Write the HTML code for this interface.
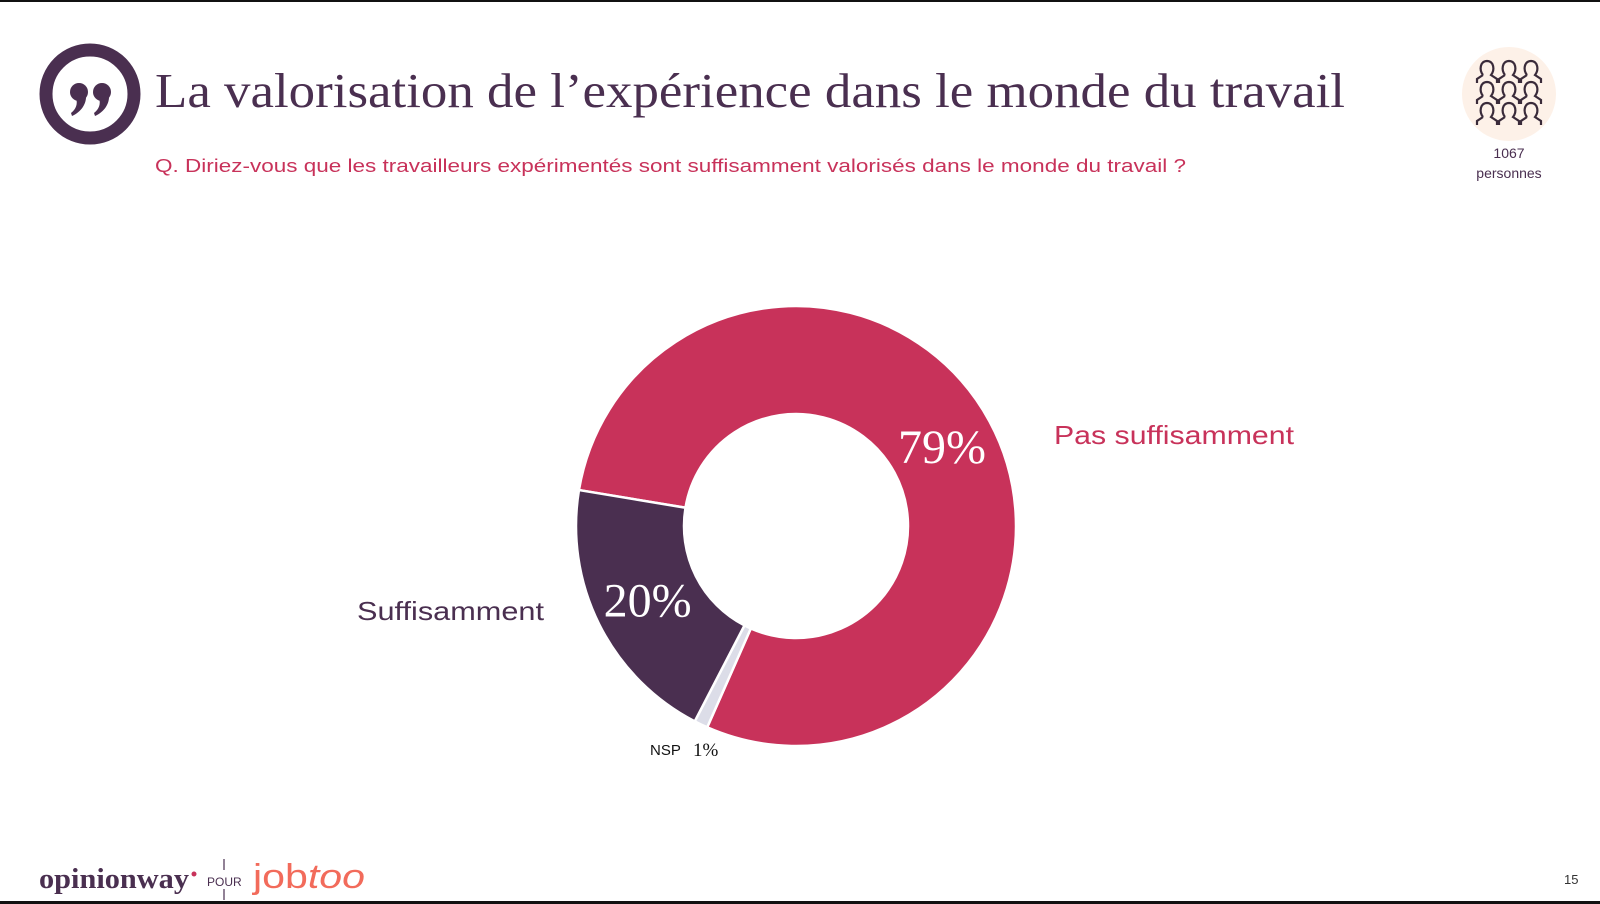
<!DOCTYPE html>
<html><head><meta charset="utf-8"><style>
html,body{margin:0;padding:0;background:#fff;}
svg{display:block;}
</style></head><body>
<svg width="1600" height="904" viewBox="0 0 1600 904" xmlns="http://www.w3.org/2000/svg">
<rect x="0" y="0" width="1600" height="2" fill="#111"/>
<rect x="0" y="901" width="1600" height="3" fill="#111"/>
<g fill="#4a2f50">
<circle cx="90" cy="94" r="44" fill="none" stroke="#4a2f50" stroke-width="13"/>
<circle cx="79" cy="92" r="9"/>
<path d="M86,94 C87,104 81,112 72,116 L71,113 C76,109 78,104 76,98 Z"/>
<circle cx="102" cy="92" r="9"/>
<path d="M109,94 C110,104 104,112 95,116 L94,113 C99,109 101,104 99,98 Z"/>
</g>
<text x="155" y="107" font-family="Liberation Serif, serif" font-size="49" fill="#4a2f50" textLength="1190" lengthAdjust="spacingAndGlyphs">La valorisation de l’expérience dans le monde du travail</text>
<text x="155" y="172" font-family="Liberation Sans, sans-serif" font-size="18" fill="#c8325a" textLength="1031" lengthAdjust="spacingAndGlyphs">Q. Diriez-vous que les travailleurs expérimentés sont suffisamment valorisés dans le monde du travail ?</text>
<g>
<circle cx="1509" cy="94" r="47" fill="#fdf1e8"/>
<g fill="none" stroke="#3a2b3a" stroke-width="2.2" id="ppl"></g>
</g>
<text x="1509" y="158" text-anchor="middle" font-family="Liberation Sans, sans-serif" font-size="14" fill="#4a2f50">1067</text>
<text x="1509" y="178" text-anchor="middle" font-family="Liberation Sans, sans-serif" font-size="14" fill="#4a2f50">personnes</text>
<g id="donut"></g>
<text x="1054" y="444" font-family="Liberation Sans, sans-serif" font-size="26" fill="#c8325a" textLength="240" lengthAdjust="spacingAndGlyphs">Pas suffisamment</text>
<text x="357" y="620" font-family="Liberation Sans, sans-serif" font-size="26" fill="#4a2f50" textLength="187" lengthAdjust="spacingAndGlyphs">Suffisamment</text>
<text x="650" y="755" font-family="Liberation Sans, sans-serif" font-size="15" fill="#111">NSP</text>
<text x="693" y="756" font-family="Liberation Serif, serif" font-size="19" fill="#111">1%</text>
<g>
<text x="39" y="888" font-family="Liberation Serif, serif" font-weight="bold" font-size="29" fill="#4a2f50" textLength="150" lengthAdjust="spacingAndGlyphs">opinionway</text>
<circle cx="194" cy="874" r="2.5" fill="#c8325a"/>
<text x="207" y="886" font-family="Liberation Sans, sans-serif" font-size="12" fill="#4a2f50">POUR</text>
<line x1="224" y1="859" x2="224" y2="870" stroke="#4a2f50" stroke-width="1.2"/>
<line x1="224" y1="889" x2="224" y2="900" stroke="#4a2f50" stroke-width="1.2"/>
<text x="253" y="888" font-family="Liberation Sans, sans-serif" font-size="34" fill="#f26b5b" textLength="112" lengthAdjust="spacingAndGlyphs">job<tspan font-style="italic">too</tspan></text>
</g>
<text x="1564" y="884" font-family="Liberation Sans, sans-serif" font-size="13" fill="#333">15</text>
</svg>
<script>
const categories = ["Pas suffisamment", "NSP", "Suffisamment"];
const values = [79, 1, 20];
const valueLabels = ["79%", "", "20%"];
const colors = ["#c8325a", "#dcdde8", "#4a2f50"];
const NS = "http://www.w3.org/2000/svg";
const cx = 796, cy = 526, R = 220, r = 112, startDeg = -80.6;
const total = values.reduce((a, b) => a + b, 0);
function pt(deg, rad) { const a = (deg - 90) * Math.PI / 180; return [cx + rad * Math.cos(a), cy + rad * Math.sin(a)]; }
const g = document.getElementById('donut');
let acc = startDeg;
values.forEach((v, i) => {
  const span = v / total * 360, a0 = acc, a1 = acc + span; acc = a1;
  const large = span > 180 ? 1 : 0;
  const p0 = pt(a0, R), p1 = pt(a1, R), q1 = pt(a1, r), q0 = pt(a0, r);
  const path = document.createElementNS(NS, 'path');
  path.setAttribute('d', `M${p0[0]},${p0[1]} A${R},${R} 0 ${large} 1 ${p1[0]},${p1[1]} L${q1[0]},${q1[1]} A${r},${r} 0 ${large} 0 ${q0[0]},${q0[1]} Z`);
  path.setAttribute('fill', colors[i]);
  path.setAttribute('stroke', '#fff');
  path.setAttribute('stroke-width', '2.5');
  
  
  g.appendChild(path);
});
acc = startDeg;
values.forEach((v, i) => {
  const span = v / total * 360; const a0 = acc; acc += span;
  if (!valueLabels[i]) return;
  const p = pt(a0 + span / 2, (R + r) / 2);
  const t = document.createElementNS(NS, 'text');
  t.setAttribute('x', p[0]); t.setAttribute('y', p[1] + 16);
  t.setAttribute('text-anchor', 'middle');
  t.setAttribute('font-family', 'Liberation Serif, serif');
  t.setAttribute('font-size', '48');
  t.setAttribute('fill', '#fff');
  t.textContent = valueLabels[i];
  
  
  g.appendChild(t);
});
const pg = document.getElementById('ppl');
[[1509-22,72],[1509,72],[1509+22,72],[1509-22,93],[1509,93],[1509+22,93],[1509-22,114],[1509,114],[1509+22,114]].forEach(([x,y]) => {
  const c = document.createElementNS(NS, 'path');
  c.setAttribute('d', `M${x-4},${y+3} C${x-8},${y-2} ${x-7},${y-11} ${x},${y-11} C${x+7},${y-11} ${x+8},${y-2} ${x+4},${y+3} L${x+10},${y+7} L${x+10},${y+11} M${x-10},${y+11} L${x-10},${y+7} L${x-4},${y+3}`);
  
  
  pg.appendChild(c);
});
</script>
</body></html>
